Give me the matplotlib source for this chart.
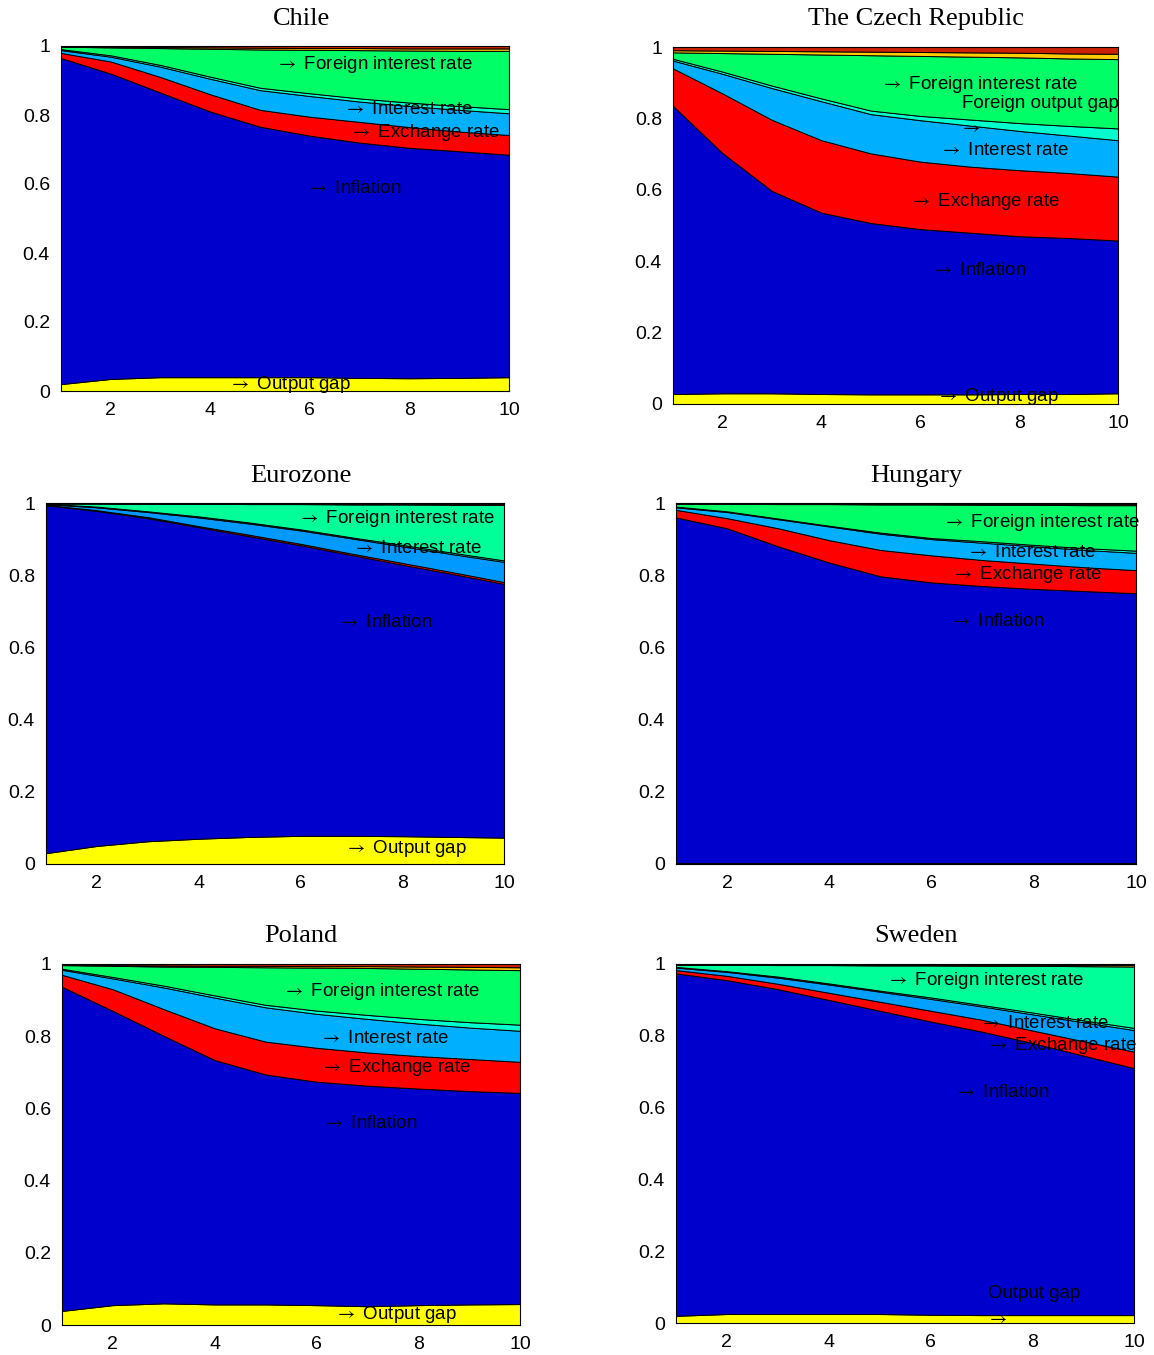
import numpy as np
import matplotlib
matplotlib.use('Agg')
import matplotlib.pyplot as plt
from matplotlib.ticker import FormatStrFormatter

plt.rcParams['font.family'] = ['Liberation Sans', 'DejaVu Sans']
plt.rcParams['mathtext.fontset'] = 'stix'

# horizon (quarters)
horizon = [1, 2, 3, 4, 5, 6, 7, 8, 9, 10]

# share of forecast error variance, stacked bottom -> top
chile_output_gap = [0.020, 0.035, 0.040, 0.040, 0.040, 0.040, 0.038, 0.037, 0.038, 0.040]
chile_inflation = [0.945, 0.885, 0.825, 0.770, 0.726, 0.700, 0.682, 0.668, 0.657, 0.645]
chile_exchange = [0.015, 0.035, 0.045, 0.050, 0.049, 0.055, 0.060, 0.060, 0.057, 0.057]
chile_interest = [0.008, 0.014, 0.030, 0.045, 0.057, 0.060, 0.059, 0.061, 0.063, 0.063]
chile_foreign_gap = [0.003, 0.004, 0.005, 0.006, 0.007, 0.008, 0.009, 0.010, 0.011, 0.012]
chile_foreign_rate = [0.007, 0.023, 0.049, 0.081, 0.111, 0.126, 0.140, 0.151, 0.160, 0.169]
chile_foreign_infl = [0.001, 0.002, 0.003, 0.004, 0.005, 0.005, 0.006, 0.006, 0.007, 0.007]
chile_other = [0.001, 0.002, 0.003, 0.004, 0.005, 0.006, 0.006, 0.007, 0.007, 0.007]

czech_output_gap = [0.028, 0.030, 0.030, 0.028, 0.027, 0.027, 0.027, 0.028, 0.028, 0.030]
czech_inflation = [0.807, 0.673, 0.567, 0.508, 0.480, 0.463, 0.453, 0.442, 0.437, 0.428]
czech_exchange = [0.105, 0.167, 0.199, 0.203, 0.195, 0.189, 0.185, 0.185, 0.182, 0.179]
czech_interest = [0.022, 0.055, 0.089, 0.109, 0.110, 0.116, 0.115, 0.110, 0.105, 0.102]
czech_foreign_gap = [0.005, 0.006, 0.007, 0.008, 0.010, 0.012, 0.017, 0.022, 0.027, 0.033]
czech_foreign_rate = [0.018, 0.052, 0.089, 0.123, 0.155, 0.168, 0.176, 0.184, 0.189, 0.194]
czech_foreign_infl = [0.006, 0.007, 0.008, 0.009, 0.010, 0.011, 0.012, 0.013, 0.014, 0.015]
czech_other = [0.009, 0.010, 0.011, 0.012, 0.013, 0.014, 0.015, 0.016, 0.018, 0.019]

euro_output_gap = [0.030, 0.050, 0.063, 0.070, 0.075, 0.078, 0.078, 0.077, 0.075, 0.073]
euro_inflation = [0.964, 0.928, 0.895, 0.863, 0.833, 0.805, 0.778, 0.752, 0.728, 0.703]
euro_exchange = [0.001, 0.002, 0.003, 0.003, 0.004, 0.004, 0.004, 0.005, 0.005, 0.005]
euro_interest = [0.002, 0.008, 0.014, 0.024, 0.031, 0.037, 0.042, 0.046, 0.050, 0.056]
euro_foreign_gap = [0.001, 0.002, 0.002, 0.003, 0.003, 0.003, 0.003, 0.004, 0.004, 0.004]
euro_foreign_rate = [0.001, 0.009, 0.021, 0.035, 0.051, 0.070, 0.091, 0.112, 0.133, 0.154]
euro_foreign_infl = [0.000, 0.000, 0.001, 0.001, 0.001, 0.001, 0.002, 0.002, 0.002, 0.002]
euro_other = [0.001, 0.001, 0.001, 0.001, 0.002, 0.002, 0.002, 0.002, 0.003, 0.003]

hungary_output_gap = [0.003, 0.003, 0.003, 0.003, 0.003, 0.003, 0.003, 0.003, 0.003, 0.003]
hungary_inflation = [0.957, 0.927, 0.877, 0.832, 0.794, 0.777, 0.767, 0.759, 0.753, 0.747]
hungary_exchange = [0.021, 0.028, 0.050, 0.062, 0.073, 0.075, 0.072, 0.070, 0.066, 0.064]
hungary_interest = [0.007, 0.017, 0.025, 0.038, 0.045, 0.045, 0.048, 0.048, 0.048, 0.048]
hungary_foreign_gap = [0.002, 0.002, 0.002, 0.002, 0.003, 0.003, 0.004, 0.004, 0.005, 0.006]
hungary_foreign_rate = [0.008, 0.021, 0.040, 0.060, 0.078, 0.093, 0.101, 0.111, 0.119, 0.126]
hungary_foreign_infl = [0.001, 0.001, 0.001, 0.001, 0.002, 0.002, 0.002, 0.002, 0.003, 0.003]
hungary_other = [0.001, 0.001, 0.002, 0.002, 0.002, 0.002, 0.003, 0.003, 0.003, 0.003]

poland_output_gap = [0.039, 0.055, 0.060, 0.057, 0.057, 0.055, 0.052, 0.055, 0.057, 0.058]
poland_inflation = [0.898, 0.815, 0.741, 0.677, 0.637, 0.619, 0.611, 0.600, 0.591, 0.585]
poland_exchange = [0.033, 0.060, 0.074, 0.088, 0.091, 0.094, 0.092, 0.090, 0.089, 0.086]
poland_interest = [0.014, 0.030, 0.060, 0.085, 0.095, 0.094, 0.093, 0.090, 0.087, 0.086]
poland_foreign_gap = [0.003, 0.004, 0.005, 0.006, 0.007, 0.009, 0.011, 0.013, 0.015, 0.017]
poland_foreign_rate = [0.010, 0.031, 0.053, 0.079, 0.104, 0.119, 0.130, 0.139, 0.146, 0.151]
poland_foreign_infl = [0.001, 0.002, 0.003, 0.003, 0.004, 0.004, 0.005, 0.006, 0.007, 0.008]
poland_other = [0.002, 0.003, 0.004, 0.005, 0.005, 0.006, 0.006, 0.007, 0.008, 0.009]

sweden_output_gap = [0.020, 0.025, 0.025, 0.025, 0.025, 0.023, 0.022, 0.022, 0.022, 0.022]
sweden_inflation = [0.954, 0.930, 0.905, 0.875, 0.845, 0.817, 0.790, 0.758, 0.723, 0.688]
sweden_exchange = [0.009, 0.012, 0.015, 0.020, 0.025, 0.030, 0.033, 0.035, 0.040, 0.046]
sweden_interest = [0.007, 0.011, 0.017, 0.023, 0.028, 0.033, 0.037, 0.045, 0.053, 0.060]
sweden_foreign_gap = [0.002, 0.002, 0.003, 0.003, 0.003, 0.004, 0.004, 0.005, 0.005, 0.006]
sweden_foreign_rate = [0.006, 0.018, 0.032, 0.051, 0.070, 0.089, 0.109, 0.130, 0.151, 0.171]
sweden_foreign_infl = [0.001, 0.001, 0.002, 0.002, 0.002, 0.002, 0.003, 0.003, 0.003, 0.004]
sweden_other = [0.001, 0.001, 0.001, 0.001, 0.002, 0.002, 0.002, 0.002, 0.003, 0.003]

countries = ['Chile', 'The Czech Republic', 'Eurozone', 'Hungary', 'Poland', 'Sweden']

series = {
    'Chile': [chile_output_gap, chile_inflation, chile_exchange, chile_interest,
              chile_foreign_gap, chile_foreign_rate, chile_foreign_infl, chile_other],
    'The Czech Republic': [czech_output_gap, czech_inflation, czech_exchange, czech_interest,
                           czech_foreign_gap, czech_foreign_rate, czech_foreign_infl, czech_other],
    'Eurozone': [euro_output_gap, euro_inflation, euro_exchange, euro_interest,
                 euro_foreign_gap, euro_foreign_rate, euro_foreign_infl, euro_other],
    'Hungary': [hungary_output_gap, hungary_inflation, hungary_exchange, hungary_interest,
                hungary_foreign_gap, hungary_foreign_rate, hungary_foreign_infl, hungary_other],
    'Poland': [poland_output_gap, poland_inflation, poland_exchange, poland_interest,
               poland_foreign_gap, poland_foreign_rate, poland_foreign_infl, poland_other],
    'Sweden': [sweden_output_gap, sweden_inflation, sweden_exchange, sweden_interest,
               sweden_foreign_gap, sweden_foreign_rate, sweden_foreign_infl, sweden_other],
}

# axes boxes in pixels: left, right, top, bottom
W, H = 1154, 1355
boxes = {
    'Chile': (61, 509, 46, 391),
    'The Czech Republic': (673, 1118, 47, 404),
    'Eurozone': (46, 504, 503, 864),
    'Hungary': (676, 1136, 503, 864),
    'Poland': (62, 520, 964, 1325),
    'Sweden': (676, 1134, 964, 1323),
}
# title centres in pixels (subplot grid column / row)
title_pos = {
    'Chile': (301, 19), 'The Czech Republic': (916, 19),
    'Eurozone': (301, 476), 'Hungary': (916, 476),
    'Poland': (301, 936), 'Sweden': (916, 936),
}

green = {'Chile': '#00FF66', 'The Czech Republic': '#00FF66', 'Eurozone': '#00FF99',
         'Hungary': '#00FF66', 'Poland': '#00FF66', 'Sweden': '#00FF99'}
lightblue = {'Chile': '#00B0FF', 'The Czech Republic': '#00B0FF', 'Eurozone': '#0099FF',
             'Hungary': '#00B0FF', 'Poland': '#00B0FF', 'Sweden': '#00A0FF'}

AR = r'$\rightarrow$'
# annotations: (x, y, text)
labels = {
    'Chile': [(5.41, 0.945, AR + ' Foreign interest rate'), (6.79, 0.817, AR + ' Interest rate'),
              (6.91, 0.748, AR + ' Exchange rate'), (6.05, 0.588, AR + ' Inflation'),
              (4.47, 0.020, AR + ' Output gap')],
    'The Czech Republic': [(5.31, 0.896, AR + ' Foreign interest rate'), (6.85, 0.843, 'Foreign output gap'),
                           (6.91, 0.773, AR), (6.51, 0.709, AR + ' Interest rate'),
                           (5.90, 0.566, AR + ' Exchange rate'), (6.34, 0.373, AR + ' Inflation'),
                           (6.44, 0.020, AR + ' Output gap')],
    'Eurozone': [(6.05, 0.956, AR + ' Foreign interest rate'), (7.13, 0.873, AR + ' Interest rate'),
                 (6.83, 0.668, AR + ' Inflation'), (6.97, 0.042, AR + ' Output gap')],
    'Hungary': [(6.32, 0.947, AR + ' Foreign interest rate'), (6.79, 0.864, AR + ' Interest rate'),
                (6.50, 0.803, AR + ' Exchange rate'), (6.46, 0.673, AR + ' Inflation')],
    'Poland': [(5.44, 0.925, AR + ' Foreign interest rate'), (6.17, 0.795, AR + ' Interest rate'),
               (6.19, 0.712, AR + ' Exchange rate'), (6.23, 0.557, AR + ' Inflation'),
               (6.46, 0.028, AR + ' Output gap')],
    'Sweden': [(5.24, 0.953, AR + ' Foreign interest rate'), (7.07, 0.833, AR + ' Interest rate'),
               (7.21, 0.774, AR + ' Exchange rate'), (6.58, 0.643, AR + ' Inflation'),
               (7.13, 0.081, 'Output gap'), (7.22, 0.010, AR)],
}

fig = plt.figure(figsize=(W / 100, H / 100), dpi=100)

for name in countries:
    l, r, t, b = boxes[name]
    ax = fig.add_axes([l / W, 1 - b / H, (r - l) / W, (b - t) / H])
    colors = ['#FFFF00', '#0000CC', '#FF0000', lightblue[name], '#00FFCC',
              green[name], '#FFCC00', '#CC2200']
    ax.stackplot(horizon, *series[name], colors=colors, edgecolor='black', linewidth=0.7)
    ax.set_xlim(1, 10)
    ax.set_ylim(0, 1)
    ax.set_xticks([2, 4, 6, 8, 10])
    ax.set_yticks([0, 0.2, 0.4, 0.6, 0.8, 1])
    ax.yaxis.set_major_formatter(FormatStrFormatter('%g'))
    ax.tick_params(length=0, labelsize=14, pad=8)
    for s in ax.spines.values():
        s.set_linewidth(0.8)
    tx, ty = title_pos[name]
    fig.text(tx / W, 1 - ty / H, name, fontsize=19, family='Liberation Serif',
             ha='center', va='center')
    for x, y, txt in labels[name]:
        if txt.startswith(AR):
            x -= 0.1  # mathtext arrow carries a little left bearing
        ax.text(x, y, txt, fontsize=13.5, va='center', ha='left')

fig.savefig('out.png', dpi=100)
